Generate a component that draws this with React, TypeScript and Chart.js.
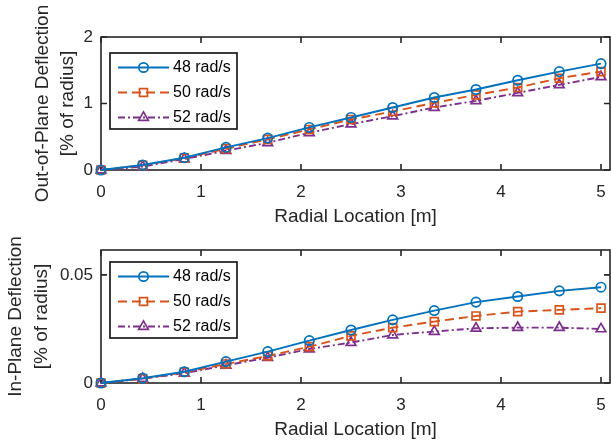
import React, { useEffect, useRef } from "react";
import { Chart, registerables } from "chart.js";

Chart.register(...registerables);

// ---------- data ----------
const radialLocation = [0, 0.417, 0.833, 1.25, 1.667, 2.083, 2.5, 2.917, 3.333, 3.75, 4.167, 4.583, 5];
const seriesLabels = ["48 rad/s", "50 rad/s", "52 rad/s"];

const outOfPlane48 = [0, 0.075, 0.185, 0.34, 0.48, 0.64, 0.79, 0.94, 1.09, 1.21, 1.35, 1.48, 1.6];
const outOfPlane50 = [0, 0.07, 0.18, 0.32, 0.46, 0.61, 0.76, 0.88, 1.01, 1.13, 1.24, 1.38, 1.48];
const outOfPlane52 = [0, 0.05, 0.165, 0.29, 0.41, 0.56, 0.69, 0.81, 0.94, 1.04, 1.16, 1.28, 1.4];

const inPlane48 = [0, 0.0022, 0.0052, 0.0099, 0.0145, 0.0196, 0.0245, 0.0292, 0.0335, 0.0374, 0.04, 0.0426, 0.0443];
const inPlane50 = [0, 0.002, 0.005, 0.0088, 0.0125, 0.0168, 0.0218, 0.0256, 0.0284, 0.031, 0.033, 0.0338, 0.0346];
const inPlane52 = [0, 0.002, 0.0045, 0.0082, 0.0117, 0.0157, 0.0187, 0.0222, 0.0238, 0.0253, 0.0256, 0.0256, 0.025];

const xTicks = [0, 1, 2, 3, 4, 5];
const outTicks = [0, 1, 2];
const inTicks = [0, 0.05];

const xTitle = "Radial Location [m]";
const outTitle = ["Out-of-Plane Deflection", "[% of radius]"];
const inTitle = ["In-Plane Deflection", "[% of radius]"];

// ---------- style ----------
const FONT = '"Liberation Sans", Arial, Helvetica, sans-serif';
const TEXT = "#262626";
const COLORS = ["#0072BD", "#D95319", "#7E2F8E"];
const DASHES: number[][] = [[], [9, 5], [7, 3, 2, 3]];
const POINT_STYLES = ["circle", "rect", "triangle"];
const POINT_RADII = [4.7, 5.6, 5.6];

function makeDatasets(values: number[][]) {
  return values.map((vals, i) => ({
    label: seriesLabels[i],
    data: radialLocation.map((x, j) => ({ x, y: vals[j] })),
    borderColor: COLORS[i],
    backgroundColor: "rgba(0,0,0,0)",
    borderWidth: 1.9,
    borderDash: DASHES[i],
    pointStyle: POINT_STYLES[i],
    pointRadius: POINT_RADII[i],
    pointBorderWidth: 1.7,
    pointBorderColor: COLORS[i],
    pointBackgroundColor: "rgba(0,0,0,0)",
    tension: 0,
    clip: false as const,
  }));
}

function drawMarker(ctx: CanvasRenderingContext2D, style: string, x: number, y: number, r: number) {
  ctx.beginPath();
  if (style === "circle") {
    ctx.arc(x, y, r, 0, Math.PI * 2);
  } else if (style === "rect") {
    const s = r * Math.SQRT1_2;
    ctx.rect(x - s, y - s, 2 * s, 2 * s);
  } else {
    const h = (r * 3) / 2;
    const side = r * Math.sqrt(3);
    ctx.moveTo(x - side / 2, y + h / 3);
    ctx.lineTo(x + side / 2, y + h / 3);
    ctx.lineTo(x, y - (2 * h) / 3);
    ctx.closePath();
  }
  ctx.stroke();
}

const matlabAxes = {
  id: "matlabAxes",
  beforeDatasetsDraw(chart: any) {
    const { ctx, chartArea: a, scales } = chart;
    const x = scales.x;
    const y = scales.y;
    ctx.save();
    ctx.strokeStyle = TEXT;
    ctx.lineWidth = 1.6;
    ctx.setLineDash([]);
    ctx.beginPath();
    for (const t of x.ticks) {
      const px = x.getPixelForValue(t.value);
      ctx.moveTo(px, a.bottom);
      ctx.lineTo(px, a.bottom - 6);
      ctx.moveTo(px, a.top);
      ctx.lineTo(px, a.top + 6);
    }
    for (const t of y.ticks) {
      const py = y.getPixelForValue(t.value);
      ctx.moveTo(a.left, py);
      ctx.lineTo(a.left + 6, py);
      ctx.moveTo(a.right, py);
      ctx.lineTo(a.right - 6, py);
    }
    ctx.stroke();
    ctx.strokeRect(a.left, a.top, a.right - a.left, a.bottom - a.top);
    ctx.restore();
  },
  afterDatasetsDraw(chart: any, _args: any, opts: any) {
    const { ctx, chartArea: a } = chart;
    const left = a.left + opts.dx;
    const top = a.top + opts.dy;
    const w = 127;
    const h = 76;
    ctx.save();
    ctx.fillStyle = "#ffffff";
    ctx.fillRect(left, top, w, h);
    ctx.strokeStyle = "#1a1a1a";
    ctx.lineWidth = 1.7;
    ctx.setLineDash([]);
    ctx.strokeRect(left, top, w, h);
    chart.data.datasets.forEach((ds: any, i: number) => {
      const ry = top + 14.5 + i * 25;
      const x0 = left + 8;
      const x1 = left + 59;
      ctx.strokeStyle = ds.borderColor;
      ctx.lineWidth = ds.borderWidth;
      ctx.setLineDash(ds.borderDash || []);
      ctx.beginPath();
      ctx.moveTo(x0, ry);
      ctx.lineTo(x1, ry);
      ctx.stroke();
      ctx.setLineDash([]);
      ctx.lineWidth = ds.pointBorderWidth;
      drawMarker(ctx, ds.pointStyle, (x0 + x1) / 2, ry, ds.pointRadius);
      ctx.fillStyle = "#000000";
      ctx.font = `16px ${FONT}`;
      ctx.textBaseline = "middle";
      ctx.textAlign = "left";
      ctx.fillText(ds.label, left + 63, ry + 0.5);
    });
    ctx.restore();
  },
};

function makeConfig(
  values: number[][],
  yMax: number,
  yTicks: number[],
  yTitle: string[],
  padTop: number,
  padBottom: number,
  legendDy: number,
  titlePad: number,
  titleLineHeight: number
): any {
  return {
    type: "line",
    data: { datasets: makeDatasets(values) },
    plugins: [matlabAxes],
    options: {
      animation: false,
      responsive: false,
      devicePixelRatio: 1,
      events: [],
      layout: { autoPadding: false, padding: { left: 0, right: 1, top: padTop, bottom: padBottom } },
      plugins: {
        legend: { display: false },
        tooltip: { enabled: false },
        matlabAxes: { dx: 9, dy: legendDy },
      },
      scales: {
        x: {
          type: "linear",
          min: 0,
          max: 5.09,
          afterBuildTicks: (s: any) => {
            s.ticks = xTicks.map((v) => ({ value: v }));
          },
          afterFit: (s: any) => {
            s.height = 58;
            s.paddingLeft = 0;
            s.paddingRight = 0;
          },
          grid: { display: false, drawTicks: false },
          border: { display: false },
          ticks: {
            padding: 12,
            color: TEXT,
            font: { family: FONT, size: 17 },
            maxRotation: 0,
            callback: (v: any) => String(v),
          },
          title: {
            display: true,
            text: xTitle,
            color: TEXT,
            font: { family: FONT, size: 19, lineHeight: 1.2 },
            padding: 0,
          },
        },
        y: {
          type: "linear",
          min: 0,
          max: yMax,
          afterBuildTicks: (s: any) => {
            s.ticks = yTicks.map((v) => ({ value: v }));
          },
          afterFit: (s: any) => {
            s.width = 101;
            s.paddingTop = 0;
            s.paddingBottom = 0;
          },
          grid: { display: false, drawTicks: false },
          border: { display: false },
          ticks: {
            padding: 8,
            color: TEXT,
            font: { family: FONT, size: 17 },
            callback: (v: any) => String(v),
          },
          title: {
            display: true,
            text: yTitle,
            color: TEXT,
            font: { family: FONT, size: 19, lineHeight: titleLineHeight },
            padding: { top: titlePad, bottom: 0 },
          },
        },
      },
    },
  };
}

function ChartCanvas({ config, top, height }: { config: any; top: number; height: number }) {
  const ref = useRef<HTMLCanvasElement | null>(null);
  useEffect(() => {
    if (!ref.current) return;
    const chart = new Chart(ref.current, config);
    return () => chart.destroy();
  }, [config]);
  return (
    <canvas
      ref={ref}
      width={611}
      height={height}
      style={{ position: "absolute", left: 0, top, width: 611, height, display: "block" }}
    />
  );
}

const topConfig = makeConfig([outOfPlane48, outOfPlane50, outOfPlane52], 2, outTicks, outTitle, 37, 2, 16, 30.5, 1.316);
const bottomConfig = makeConfig([inPlane48, inPlane50, inPlane52], 0.0615, inTicks, inTitle, 20, 5, 12, 3, 1.37);

export default function App() {
  return (
    <div style={{ position: "absolute", left: 0, top: 0, width: 611, height: 446, background: "#ffffff" }}>
      <ChartCanvas config={topConfig} top={0} height={230} />
      <ChartCanvas config={bottomConfig} top={230} height={216} />
    </div>
  );
}
